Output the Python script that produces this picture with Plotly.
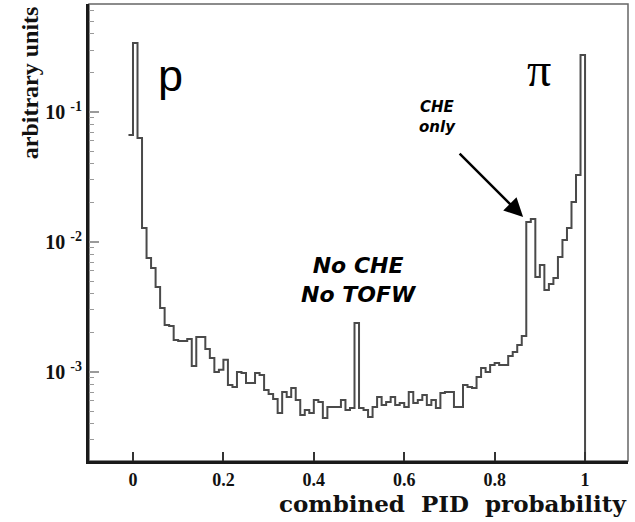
import numpy as np
import plotly.graph_objects as go

# Combined PID probability histogram, bins of width 0.01 starting at -0.01
bin_width = 0.01
bin_low_edges = np.round(np.arange(-0.01, 1.0 + 1e-9, bin_width), 2)  # -0.01 ... 1.00

bin_contents = [
    0.0665, 0.340, 0.0631, 0.0128, 0.00753, 0.00631, 0.00451, 0.00311, 0.00230, 0.00226,
    0.00176, 0.00173, 0.00173, 0.00179, 0.00111, 0.00186, 0.00186, 0.00150, 0.00128, 0.00100,
    0.00104, 0.00124, 0.000794, 0.000767, 0.00100, 0.000983, 0.000823, 0.000823, 0.000983, 0.000948,
    0.000727, 0.000678, 0.000620, 0.000484, 0.000702, 0.000643, 0.000753, 0.000609, 0.000467, 0.000510,
    0.000484, 0.000609, 0.000588, 0.000443, 0.000538, 0.000538, 0.000538, 0.000609, 0.000510, 0.000528,
    0.00238, 0.000528, 0.000510, 0.000451, 0.000538, 0.000643, 0.000557, 0.000588, 0.000643, 0.000557,
    0.000578, 0.000538, 0.000702, 0.000578, 0.000609, 0.000665, 0.000557, 0.000609, 0.000528, 0.000690,
    0.000702, 0.000702, 0.000538, 0.000538, 0.000794, 0.000767, 0.000753, 0.000916, 0.001074, 0.00100,
    0.001133, 0.001173, 0.001133, 0.001133, 0.001328, 0.001425, 0.001614, 0.001892, 0.01425, 0.01503,
    0.00538, 0.00665, 0.00428, 0.00475, 0.00528, 0.00767, 0.01036, 0.01283, 0.0203, 0.0328,
    0.274,
    0.0,  # bin [1.00, 1.01] is empty
]

y_major_vals = [1e-3, 1e-2, 1e-1]
y_major_text = ["<b>10&nbsp;<sup>-3</sup></b>", "<b>10&nbsp;<sup>-2</sup></b>", "<b>10&nbsp;<sup>-1</sup></b>"]
y_minor_vals = [m * d for d in (1e-4, 1e-3, 1e-2, 1e-1) for m in range(2, 10)]
x_tick_vals = [0, 0.2, 0.4, 0.6, 0.8, 1.0]
x_tick_text = ["<b>0</b>", "<b>0.2</b>", "<b>0.4</b>", "<b>0.6</b>", "<b>0.8</b>", "<b>1</b>"]

y_range = [-3.685, -0.169]

# empty bins fall below the log axis so the outline drops out of the frame
floor = 1e-9
step_y = [c if c > 0 else floor for c in bin_contents]

fig = go.Figure()
fig.add_trace(go.Scatter(
    x=bin_low_edges,
    y=step_y,
    mode="lines",
    line=dict(shape="hv", color="#4a4a4a", width=2),
    hoverinfo="skip",
    showlegend=False,
))
# empty trace that carries the overlay axis used for the minor log ticks
fig.add_trace(go.Scatter(x=[None], y=[None], yaxis="y2", mode="lines",
                         hoverinfo="skip", showlegend=False))

serif = "Liberation Serif"
fig.update_layout(
    width=635,
    height=522,
    margin=dict(l=89, r=7, t=4, b=61),
    paper_bgcolor="white",
    plot_bgcolor="white",
    showlegend=False,
    xaxis=dict(
        range=[-0.0973, 1.095],
        tickvals=x_tick_vals,
        ticktext=x_tick_text,
        ticks="inside",
        ticklen=9,
        tickwidth=2,
        tickcolor="#333333",
        showgrid=False,
        zeroline=False,
        showline=True,
        linecolor="#1a1a1a",
        linewidth=3,
        tickfont=dict(family=serif, size=18, color="#111111"),
    ),
    yaxis=dict(
        type="log",
        range=y_range,
        tickvals=y_major_vals,
        ticktext=y_major_text,
        ticks="inside",
        ticklen=10,
        tickwidth=2,
        tickcolor="#9a9a9a",
        showgrid=False,
        zeroline=False,
        showline=True,
        linecolor="#1a1a1a",
        linewidth=3,
        tickfont=dict(family=serif, size=20, color="#111111"),
    ),
    yaxis2=dict(
        type="log",
        range=y_range,
        overlaying="y",
        side="left",
        tickvals=y_minor_vals,
        ticks="inside",
        ticklen=5,
        tickwidth=1,
        tickcolor="#9a9a9a",
        showticklabels=False,
        showgrid=False,
        zeroline=False,
        showline=False,
    ),
    shapes=[
        dict(type="rect", xref="paper", yref="paper", x0=0, x1=1, y0=0, y1=1,
             line=dict(color="#666666", width=1.5), layer="below"),
    ],
)

annotations = [
    # axis titles
    dict(text="<b>combined&nbsp;&nbsp;PID&nbsp;&nbsp;probability</b>", xref="paper", yref="paper",
         x=1.0, y=-0.092, xanchor="right", yanchor="middle", showarrow=False,
         font=dict(family="DejaVu Serif", size=23, color="#111111")),
    dict(text="<b>arbitrary units</b>", xref="paper", yref="paper", textangle=-90,
         x=-0.11, y=1.0, xanchor="center", yanchor="top", showarrow=False,
         font=dict(family=serif, size=24, color="#111111")),
    # particle labels
    dict(text="p", x=0.082, y=-0.72, xref="x", yref="y", showarrow=False,
         font=dict(family="Liberation Sans", size=45, color="black")),
    dict(text="π", x=0.899, y=-0.67, xref="x", yref="y", showarrow=False,
         font=dict(family=serif, size=48, color="black")),
    # detector-configuration labels
    dict(text="<b><i>CHE<br>only</i></b>", x=0.673, y=-1.04, xref="x", yref="y",
         showarrow=False, font=dict(family="DejaVu Sans", size=15, color="black")),
    dict(text="<b><i>No CHE<br>No TOFW</i></b>", x=0.50, y=-2.29, xref="x", yref="y",
         showarrow=False, font=dict(family="DejaVu Sans", size=22, color="black")),
    # arrow pointing at the CHE-only peak
    dict(text="", x=0.863, y=-1.808, xref="x", yref="y", showarrow=True,
         ax=-65, ay=-65, arrowhead=2, arrowsize=1.5, arrowwidth=2.5, arrowcolor="black"),
]
fig.update_layout(annotations=annotations)

fig.write_html("out.html")
